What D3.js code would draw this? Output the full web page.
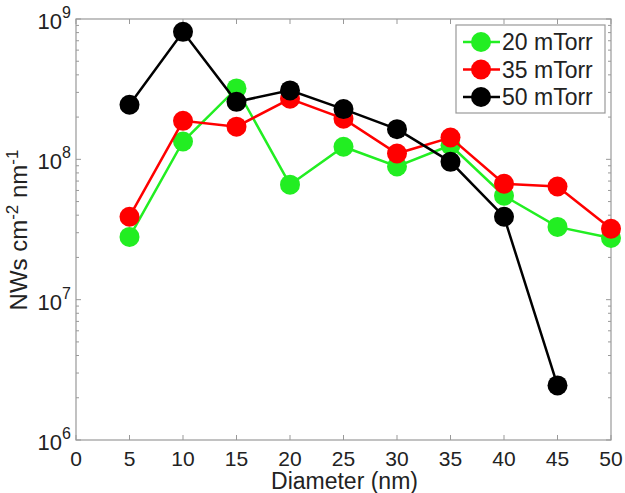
<html>
<meta charset="utf-8" />
<head>
<style>
body { margin: 0; background: #fff; }
svg text { font-family: "Liberation Sans", Arial, sans-serif; fill: #222; }
</style>
<script src="https://d3js.org/d3.v7.min.js"></script>
</head>
<body>
<svg class="chart" width="625" height="493"></svg>
<script>
// data
var diameters = [5, 10, 15, 20, 25, 30, 35, 40, 45, 50];
var green20 = [2.8e7, 1.34e8, 3.2e8, 6.6e7, 1.23e8, 8.9e7, 1.26e8, 5.5e7, 3.3e7, 2.75e7];
var red35 = [3.9e7, 1.88e8, 1.71e8, 2.7e8, 1.95e8, 1.1e8, 1.43e8, 6.7e7, 6.4e7, 3.2e7];
var black50 = [2.45e8, 8.1e8, 2.57e8, 3.1e8, 2.28e8, 1.64e8, 9.6e7, 3.9e7, 2.45e6];
var seriesNames = ["20 mTorr", "35 mTorr", "50 mTorr"];
var seriesColors = ["#22ee22", "#ff0000", "#000000"];
var xTicks = [0, 5, 10, 15, 20, 25, 30, 35, 40, 45, 50];
var yExps = [6, 7, 8, 9];

var svg = d3.select(".chart");
var pLeft = 76, pRight = 611, pTop = 19, pBottom = 440;

var x = d3.scaleLinear().domain([0, 50]).range([pLeft, pRight]);
var y = d3.scaleLog().domain([1e6, 1e9]).range([pBottom, pTop]);

// frame
svg.append("rect")
    .attr("x", pLeft).attr("y", pTop)
    .attr("width", pRight - pLeft).attr("height", pBottom - pTop)
    .attr("fill", "none").attr("stroke", "#999").attr("stroke-width", 1.2);

// x ticks (bottom and top, inward)
svg.selectAll(".xt").data(xTicks).enter().append("line")
    .attr("x1", function(d) { return x(d); }).attr("x2", function(d) { return x(d); })
    .attr("y1", pBottom).attr("y2", pBottom - 5)
    .attr("stroke", "#999");
svg.selectAll(".xtt").data(xTicks).enter().append("line")
    .attr("x1", function(d) { return x(d); }).attr("x2", function(d) { return x(d); })
    .attr("y1", pTop).attr("y2", pTop + 5)
    .attr("stroke", "#999");

svg.selectAll(".xl").data(xTicks).enter().append("text")
    .attr("x", function(d) { return x(d); })
    .attr("y", 466)
    .attr("text-anchor", "middle")
    .style("font-size", "21px")
    .text(function(d) { return d; });

svg.append("text")
    .attr("x", (pLeft + pRight) / 2 + 1)
    .attr("y", 489)
    .attr("text-anchor", "middle")
    .style("font-size", "23px")
    .text("Diameter (nm)");

// y minor/major ticks (left and right, inward)
var yMinor = [];
yExps.slice(0, 3).forEach(function(e) {
  for (var m = 1; m < 10; m++) yMinor.push(m * Math.pow(10, e));
});
yMinor.push(1e9);
[pLeft, pRight].forEach(function(px) {
  var dir = px === pLeft ? 1 : -1;
  svg.selectAll(null).data(yMinor).enter().append("line")
      .attr("x1", px)
      .attr("x2", function(d) {
        var major = Math.abs(Math.log10(d) - Math.round(Math.log10(d))) < 1e-9;
        return px + dir * (major ? 5 : 3);
      })
      .attr("y1", function(d) { return y(d); })
      .attr("y2", function(d) { return y(d); })
      .attr("stroke", "#999");
});

var yl = svg.selectAll(".yl").data(yExps).enter().append("text")
    .attr("x", 71)
    .attr("y", function(d) { return y(Math.pow(10, d)) + 10; })
    .attr("text-anchor", "end")
    .style("font-size", "22px");
yl.append("tspan").text("10");
yl.append("tspan").attr("dy", -11).style("font-size", "16px").text(function(d) { return d; });

// y axis label
var ylab = svg.append("text")
    .attr("transform", "translate(27," + 230 + ") rotate(-90)")
    .attr("text-anchor", "middle")
    .style("font-size", "24px");
ylab.append("tspan").text("NWs cm");
ylab.append("tspan").attr("dy", -9).style("font-size", "17px").text("-2");
ylab.append("tspan").attr("dy", 9).text(" nm");
ylab.append("tspan").attr("dy", -9).style("font-size", "17px").text("-1");

// series
var allSeries = [green20, red35, black50];
var line = d3.line()
    .x(function(d, i) { return x(diameters[i]); })
    .y(function(d) { return y(d); });

allSeries.forEach(function(vals, k) {
  var g = svg.append("g");
  g.append("path")
      .datum(vals)
      .attr("d", line)
      .attr("fill", "none")
      .attr("stroke", seriesColors[k])
      .attr("stroke-width", 2.5);
  g.selectAll("circle").data(vals).enter().append("circle")
      .attr("cx", function(d, i) { return x(diameters[i]); })
      .attr("cy", function(d) { return y(d); })
      .attr("r", 10)
      .attr("fill", seriesColors[k]);
});

// legend
var lg = svg.append("g");
lg.append("rect")
    .attr("x", 456).attr("y", 25)
    .attr("width", 149).attr("height", 88)
    .attr("fill", "#fff").attr("stroke", "#999").attr("stroke-width", 1.2);
var item = lg.selectAll(".legend").data(seriesNames).enter().append("g")
    .attr("transform", function(d, i) { return "translate(0," + (42 + i * 27.5) + ")"; });
item.append("line")
    .attr("x1", 463).attr("x2", 500)
    .attr("stroke", function(d, i) { return seriesColors[i]; })
    .attr("stroke-width", 2.5);
item.append("circle")
    .attr("cx", 481).attr("r", 10)
    .attr("fill", function(d, i) { return seriesColors[i]; });
item.append("text")
    .attr("x", 502).attr("y", 8)
    .style("font-size", "23px")
    .text(function(d) { return d; });
</script>
</body>
</html>
